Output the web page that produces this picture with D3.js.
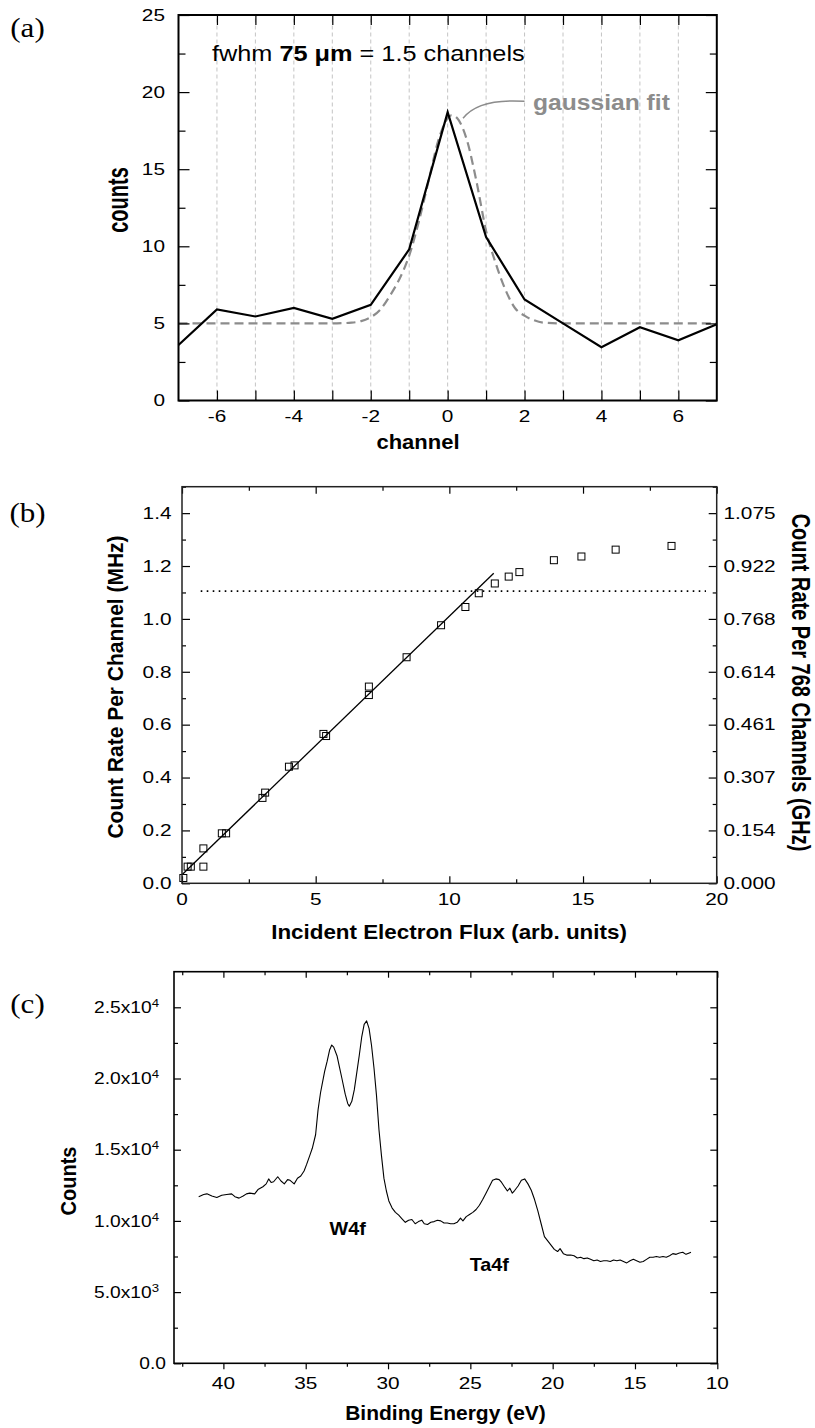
<!DOCTYPE html>
<html>
<head>
<meta charset="utf-8">
<script src="https://cdn.jsdelivr.net/npm/d3@7"></script>
<style>
  body { margin: 0; background: #fff; }
  svg { display: block; }
</style>
</head>
<body>
<svg id="fig" width="815" height="1428"></svg>
<script>
// ---------- (a) channel profile ----------
const chanX = [-7, -6, -5, -4, -3, -2, -1, 0, 1, 2, 3, 4, 5, 6, 7];
const chanCounts = [3.6, 5.9, 5.45, 6.0, 5.3, 6.2, 9.8, 18.7, 10.6, 6.55, 5.0, 3.45, 4.75, 3.9, 4.95];
const fitChan = [-7, -3, -2.5, -2.25, -2, -1.75, -1.5, -1.25, -1, -0.75, -0.5, -0.25, 0, 0.1, 0.25, 0.5, 0.75, 1, 1.25, 1.5, 1.75, 2, 2.25, 2.5, 3, 7];
const fitCounts = [5, 5, 5.05, 5.15, 5.4, 5.9, 6.8, 7.9, 9.4, 11.6, 14.2, 16.8, 18.3, 18.5, 18.3, 16.9, 14.2, 11.0, 8.9, 7.2, 6.0, 5.5, 5.2, 5.05, 5, 5];
const aGrid = [-6, -5, -4, -3, -2, -1, 0, 1, 2, 3, 4, 5, 6];
const aXLabels = ["-6", "-4", "-2", "0", "2", "4", "6"];
const aYTicks = [0, 5, 10, 15, 20, 25];
const aYMinor = [2.5, 7.5, 12.5, 17.5, 22.5];

// ---------- (b) count rate vs flux ----------
const fluxX = [0.05, 0.21, 0.33, 0.80, 0.80, 1.49, 1.65, 3.01, 3.11, 4.00, 4.21, 5.29, 5.39, 6.99, 6.99, 8.40, 9.69, 10.60, 11.10, 11.70, 12.22, 12.62, 13.91, 14.94, 16.22, 18.31];
const rateMHz = [0.02, 0.063, 0.063, 0.132, 0.063, 0.189, 0.189, 0.323, 0.343, 0.441, 0.446, 0.565, 0.557, 0.744, 0.712, 0.855, 0.976, 1.045, 1.097, 1.134, 1.160, 1.177, 1.222, 1.236, 1.262, 1.276];
const lineFitX = [0, 11.66];
const lineFitY = [0.032, 1.173];
const satLevel = 1.105;
const satRange = [0.7, 19.6];
const bXTicks = [0, 5, 10, 15, 20];
const bXMinor = [2.5, 7.5, 12.5, 17.5];
const bYTicks = [0, 0.2, 0.4, 0.6, 0.8, 1.0, 1.2, 1.4];
const bYMinor = [0.1, 0.3, 0.5, 0.7, 0.9, 1.1, 1.3, 1.5];
const bYLabels = ["0.0", "0.2", "0.4", "0.6", "0.8", "1.0", "1.2", "1.4"];
const bY2Labels = ["0.000", "0.154", "0.307", "0.461", "0.614", "0.768", "0.922", "1.075"];
const channelsPerDetector = 768;

// ---------- (c) photoemission spectrum ----------
const energy = [41.5, 41.2, 41.0, 40.7, 40.4, 40.1, 39.8, 39.5, 39.3, 39.05, 38.8, 38.6, 38.4, 38.1, 37.9, 37.6, 37.4, 37.25, 37.1, 36.95, 36.7, 36.5, 36.3, 36.1, 35.95, 35.7, 35.5, 35.3, 35.1, 34.95, 34.75, 34.6, 34.4, 34.25, 34.1, 34.0, 33.85, 33.7, 33.55, 33.42, 33.3, 33.1, 32.95, 32.8, 32.6, 32.45, 32.35, 32.2, 32.05, 31.9, 31.75, 31.6, 31.45, 31.3, 31.15, 31.0, 30.85, 30.7, 30.55, 30.4, 30.25, 30.1, 29.95, 29.75, 29.55, 29.35, 29.15, 28.95, 28.75, 28.55, 28.35, 28.15, 27.95, 27.8, 27.6, 27.4, 27.2, 27.0, 26.8, 26.6, 26.4, 26.2, 26.0, 25.8, 25.6, 25.45, 25.25, 25.05, 24.85, 24.65, 24.45, 24.25, 24.05, 23.85, 23.65, 23.45, 23.25, 23.1, 22.9, 22.75, 22.6, 22.45, 22.3, 22.1, 21.9, 21.7, 21.5, 21.3, 21.1, 20.9, 20.7, 20.5, 20.3, 20.1, 19.9, 19.7, 19.55, 19.35, 19.15, 18.9, 18.7, 18.5, 18.3, 18.1, 17.9, 17.7, 17.5, 17.3, 17.1, 16.9, 16.7, 16.5, 16.3, 16.1, 15.9, 15.7, 15.5, 15.3, 15.1, 14.9, 14.7, 14.5, 14.3, 14.1, 13.9, 13.7, 13.5, 13.3, 13.1, 12.9, 12.7, 12.5, 12.3, 12.1, 11.9, 11.7, 11.6];
const spectrum = [11700, 11850, 11900, 11750, 11650, 11800, 11850, 11900, 11700, 11600, 11750, 11900, 11950, 11900, 12200, 12400, 12600, 12950, 12700, 12750, 13100, 12800, 12600, 12900, 12850, 12600, 13000, 13150, 13500, 13950, 14600, 15100, 16050, 17800, 19000, 19600, 20500, 21200, 22000, 22350, 22200, 21600, 20800, 20000, 18900, 18250, 18050, 18400, 19200, 20400, 21600, 22900, 23800, 24050, 23500, 22300, 20700, 18800, 16400, 14600, 13000, 12100, 11400, 10900, 10600, 10400, 10150, 9900, 10050, 10100, 9800, 9950, 10050, 9800, 9750, 9900, 9950, 10050, 10000, 9850, 9850, 9800, 9800, 9900, 10200, 10000, 10300, 10450, 10600, 10800, 11100, 11500, 11950, 12400, 12850, 12950, 12900, 12700, 12350, 12100, 12300, 11950, 12150, 12450, 12850, 12950, 12600, 12150, 11500, 10700, 9800, 8900, 8600, 8300, 8000, 7850, 8050, 7700, 7600, 7600, 7550, 7400, 7450, 7350, 7400, 7300, 7200, 7250, 7150, 7200, 7200, 7150, 7250, 7200, 7250, 7150, 7050, 7200, 7300, 7200, 7100, 7150, 7300, 7450, 7450, 7500, 7450, 7500, 7450, 7550, 7700, 7650, 7750, 7800, 7650, 7750, 7800];
const cXTicks = [40, 35, 30, 25, 20, 15, 10];
const cXMinor = [42.5, 37.5, 32.5, 27.5, 22.5, 17.5, 12.5];
const cYTicks = [0, 5000, 10000, 15000, 20000, 25000];
const cYMinor = [2500, 7500, 12500, 17500, 22500];
const cYMant = ["0.0", "5.0x10", "1.0x10", "1.5x10", "2.0x10", "2.5x10"];
const cYExp = ["", "3", "4", "4", "4", "4"];
const peakNames = ["W4f", "Ta4f"];
const peakAt = [[32.45, 9500], [23.85, 6950]];

// ---------- helpers ----------
const svg = d3.select("#fig");
const SANS = "'Liberation Sans', Arial, Helvetica, sans-serif";
const SERIF = "'Liberation Serif', 'Times New Roman', Times, serif";

function label(g, s, x, y, o = {}) {
  const t = g.append("text")
    .attr("transform", `translate(${x},${y}) scale(${o.sx || 1},1)` + (o.rot ? ` rotate(${o.rot})` : ""))
    .attr("text-anchor", o.anchor || "middle")
    .attr("dy", o.dy === undefined ? "0.36em" : o.dy)
    .attr("font-size", o.size || 16)
    .attr("font-weight", o.bold ? "bold" : "normal")
    .attr("font-family", o.family || SANS)
    .attr("fill", o.fill || "#000");
  if (Array.isArray(s)) {
    s.forEach(p => {
      const sp = t.append("tspan").text(p.t);
      if (p.bold) sp.attr("font-weight", "bold");
      if (p.size) sp.attr("font-size", p.size);
      if (p.dy) sp.attr("dy", p.dy);
    });
  } else t.text(s);
  return t;
}

// ticks on all four sides of a frame; inward unless bottomOut is set
function frameTicks(g, xs, ys, xMaj, xMin, yMaj, yMin, len, minLen, ys2, bottomOut) {
  const [x0, x1] = xs.range(), [y0, y1] = ys.range();
  const tk = (axis, vals, size, tr) => {
    g.append("g").attr("transform", tr)
      .call(axis.tickValues(vals).tickSize(size).tickFormat(""))
      .call(a => a.select(".domain").remove())
      .selectAll("line").attr("stroke", "#000").attr("stroke-width", 1.2);
  };
  const toRight = v => ys2 ? v * channelsPerDetector / 1000 : v;
  const bs = bottomOut ? 1 : -1;
  tk(d3.axisBottom(xs), xMaj, bs * len.x, `translate(0,${y0})`);
  tk(d3.axisTop(xs), xMaj, -len.x, `translate(0,${y1})`);
  if (xMin.length) {
    tk(d3.axisBottom(xs), xMin, bs * minLen.x, `translate(0,${y0})`);
    tk(d3.axisTop(xs), xMin, -minLen.x, `translate(0,${y1})`);
  }
  tk(d3.axisLeft(ys), yMaj, -len.y, `translate(${x0},0)`);
  tk(d3.axisRight(ys2 || ys), yMaj.map(toRight), -len.y, `translate(${x1},0)`);
  if (yMin.length) {
    tk(d3.axisLeft(ys), yMin, -minLen.y, `translate(${x0},0)`);
    tk(d3.axisRight(ys2 || ys), yMin.map(toRight), -minLen.y, `translate(${x1},0)`);
  }
}

function frame(g, xs, ys, w, color) {
  const [x0, x1] = xs.range(), [y0, y1] = ys.range();
  g.append("rect").attr("x", x0).attr("y", y1).attr("width", x1 - x0).attr("height", y0 - y1)
    .attr("fill", "none").attr("stroke", color || "#000").attr("stroke-width", w);
}

const TICK_SX = 1.3;

// ================= panel (a) =================
{
  const g = svg.append("g");
  const x = d3.scaleLinear().domain([-7, 7]).range([178.5, 716.8]);
  const y = d3.scaleLinear().domain([0, 25]).range([400.5, 15]);

  g.append("g").selectAll("line").data(aGrid).join("line")
    .attr("x1", d => x(d)).attr("x2", d => x(d)).attr("y1", y(0)).attr("y2", y(25))
    .attr("stroke", "#c4c4c4").attr("stroke-width", 1).attr("stroke-dasharray", "4,3");

  g.append("path").datum(fitChan.map((c, i) => [c, fitCounts[i]]))
    .attr("d", d3.line().x(d => x(d[0])).y(d => y(d[1])).curve(d3.curveMonotoneX))
    .attr("fill", "none").attr("stroke", "#8c8c8c").attr("stroke-width", 2.2).attr("stroke-dasharray", "9,5");

  g.append("path").datum(chanX.map((c, i) => [c, chanCounts[i]]))
    .attr("d", d3.line().x(d => x(d[0])).y(d => y(d[1])))
    .attr("fill", "none").attr("stroke", "#000").attr("stroke-width", 2.2);

  frameTicks(g, x, y, aGrid, [], aYTicks, aYMinor, { x: 10, y: 11 }, { x: 0, y: 7 });
  frame(g, x, y, 2);

  aXLabels.forEach(s => label(g, s, x(+s), 416, { sx: TICK_SX }));
  aYTicks.forEach(v => label(g, String(v), 165, y(v), { anchor: "end", sx: TICK_SX }));

  label(g, "counts", 117.5, 200, { bold: true, size: 20, rot: -90, sx: 1.45 });
  label(g, "channel", 418, 442, { bold: true, size: 20, sx: 1.1 });

  label(g, [{ t: "fwhm " }, { t: "75 \u03bcm", bold: true }, { t: " = 1.5 channels" }], 212, 61,
    { anchor: "start", dy: 0, size: 22, sx: 1.15 });
  label(g, "gaussian fit", 533, 110, { anchor: "start", dy: 0, size: 22, bold: true, fill: "#8c8c8c", sx: 1.12 });
  g.append("path").attr("d", `M${x(0.4)},${y(18.3)} Q${x(0.8)},${y(19.6)} ${x(2.0)},${y(19.4)}`)
    .attr("fill", "none").attr("stroke", "#8c8c8c").attr("stroke-width", 1.5);

  label(g, "(a)", 27.5, 27, { family: SERIF, size: 27, sx: 1.15 });
}

// ================= panel (b) =================
{
  const g = svg.append("g");
  const x = d3.scaleLinear().domain([0, 20]).range([182, 716.7]);
  const y = d3.scaleLinear().domain([0, 1.5]).range([883.3, 486.7]);
  const y2 = d3.scaleLinear().domain([0, 1.5 * channelsPerDetector / 1000]).range([883.3, 486.7]);

  g.append("line").attr("x1", x(satRange[0])).attr("x2", x(satRange[1]))
    .attr("y1", y(satLevel)).attr("y2", y(satLevel))
    .attr("stroke", "#000").attr("stroke-width", 1.6).attr("stroke-dasharray", "1.6,4.4");

  g.append("line").attr("x1", x(lineFitX[0])).attr("y1", y(lineFitY[0]))
    .attr("x2", x(lineFitX[1])).attr("y2", y(lineFitY[1]))
    .attr("stroke", "#000").attr("stroke-width", 1.3);

  g.append("g").selectAll("rect").data(fluxX.map((f, i) => [f, rateMHz[i]])).join("rect")
    .attr("x", d => x(d[0]) - 3.5).attr("y", d => y(d[1]) - 3.5)
    .attr("width", 7).attr("height", 7)
    .attr("fill", "none").attr("stroke", "#000").attr("stroke-width", 1);

  frameTicks(g, x, y, bXTicks, bXMinor, bYTicks, bYMinor, { x: 7, y: 8 }, { x: 4, y: 4 }, y2);
  frame(g, x, y, 1.5, "#222");

  bXTicks.forEach(v => label(g, String(v), x(v), 899, { sx: TICK_SX }));
  bYTicks.forEach((v, i) => label(g, bYLabels[i], 171.5, y(v), { anchor: "end", sx: TICK_SX }));
  bYTicks.forEach((v, i) => label(g, bY2Labels[i], 723.5, y(v), { anchor: "start", sx: TICK_SX }));

  label(g, "Count Rate Per Channel (MHz)", 115, 687, { bold: true, size: 21, rot: -90, sx: 1.05 });
  label(g, "Count Rate Per 768 Channels (GHz)", 801, 682.5, { bold: true, size: 20, rot: 90, sx: 1.25 });
  label(g, "Incident Electron Flux (arb. units)", 449, 932, { bold: true, size: 20, sx: 1.12 });

  label(g, "(b)", 27.5, 512, { family: SERIF, size: 27, sx: 1.15 });
}

// ================= panel (c) =================
{
  const g = svg.append("g");
  const x = d3.scaleLinear().domain([43, 10]).range([174, 717.3]);
  const y = d3.scaleLinear().domain([0, 27500]).range([1363.3, 971.7]);

  g.append("path").datum(energy.map((e, i) => [e, spectrum[i]]))
    .attr("d", d3.line().x(d => x(d[0])).y(d => y(d[1])))
    .attr("fill", "none").attr("stroke", "#000").attr("stroke-width", 1.1).attr("stroke-linejoin", "round");

  frameTicks(g, x, y, cXTicks, cXMinor, cYTicks, cYMinor, { x: 6, y: 7 }, { x: 3.5, y: 4 }, null, true);
  frame(g, x, y, 1.6);

  cXTicks.forEach(v => label(g, String(v), x(v), 1383, { sx: TICK_SX }));
  cYTicks.forEach((v, i) => {
    if (cYExp[i]) label(g, [{ t: cYMant[i] }, { t: cYExp[i], size: 11, dy: "-0.55em" }], 159, y(v), { anchor: "end", sx: 1.2 });
    else label(g, cYMant[i], 166, y(v), { anchor: "end", sx: 1.2 });
  });

  label(g, "Counts", 67.6, 1181, { bold: true, size: 20, rot: -90, sx: 1.1 });
  label(g, "Binding Energy (eV)", 445.5, 1413, { bold: true, size: 20, sx: 1.05 });
  peakNames.forEach((n, i) => label(g, n, x(peakAt[i][0]), y(peakAt[i][1]), { bold: true, size: 18, sx: 1.1 }));

  label(g, "(c)", 27.5, 1003, { family: SERIF, size: 27, sx: 1.15 });
}
</script>
</body>
</html>
